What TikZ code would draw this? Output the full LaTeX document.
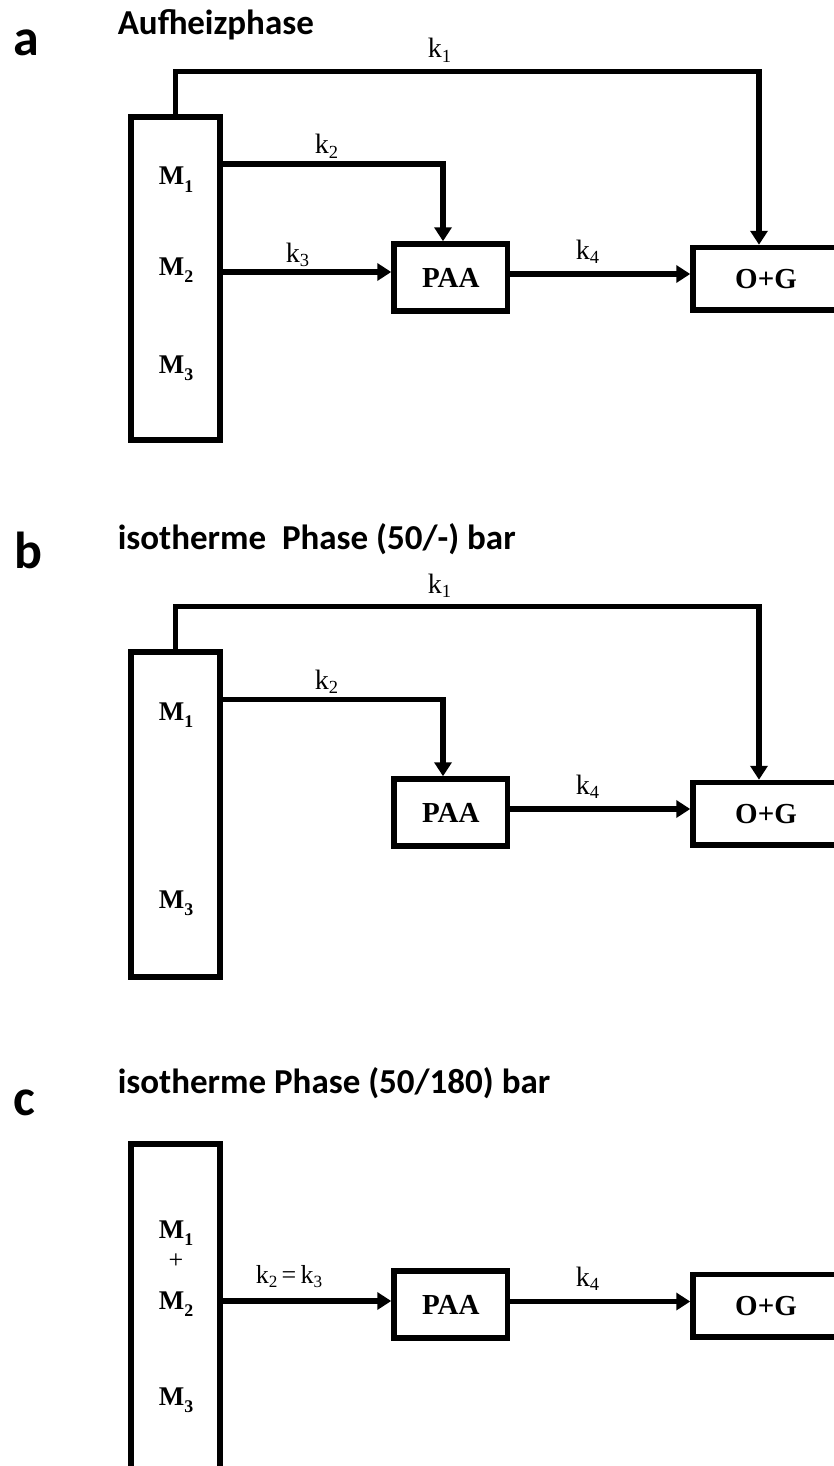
\documentclass[tikz,border=0pt]{standalone}
\usepackage{fontspec}
\setmainfont{Liberation Serif}
\newfontfamily\calfont{Carlito}
\usetikzlibrary{arrows.meta}
\newcommand\lowsub[1]{\raisebox{-0.27em}{\scalebox{0.66}{#1}}}
\newcommand\ksub[1]{\raisebox{-0.16em}{\scalebox{0.66}{#1}}}
\begin{document}
\begin{tikzpicture}[x=1pt,y=-1pt,
  line width=5.5pt,
  arr/.style={-{Triangle[width=17pt,length=14pt]}},
  boxnode/.style={draw,line width=5.5pt,inner sep=0pt,font=\fontsize{29}{32}\selectfont\bfseries},
  mbox/.style={draw,line width=5.5pt,inner sep=0pt,minimum width=89pt},
  mlab/.style={inner sep=0pt,anchor=base,font=\fontsize{27}{30}\selectfont\bfseries},
  klab/.style={inner sep=0pt,anchor=base west,font=\fontsize{28}{32}\selectfont},
  ttl/.style={inner sep=0pt,anchor=base west,font=\calfont\bfseries\fontsize{35}{40}\selectfont},
  letter/.style={inner sep=0pt,anchor=base west,font=\calfont\bfseries\fontsize{52}{60}\selectfont}]
\useasboundingbox (0,0) rectangle (833,1466);

% ---------------- panel a ----------------
\node[letter] (la) at (10.5,56) {a};
\node[ttl] (ta) at (115,35) {Aufheizphase};
\node[mbox,minimum height=323pt] (Ma) at (175.5,278.5) {};
\node[mlab] (M1a) at (176,185) {M\lowsub{1}};
\node[mlab] (M2a) at (176,275) {M\lowsub{2}};
\node[mlab] (M3a) at (176,373) {M\lowsub{3}};
\node[boxnode,minimum width=113.5pt,minimum height=67pt] (PAAa) at (450.75,277.5) {PAA};
\node[boxnode,minimum width=146pt,minimum height=62.5pt] (OGa) at (766,278.75) {O+G};
\coordinate (k1a) at (759,71.5);
\coordinate (k2a) at (443,164);
\draw[arr] (Ma.north) |- (k1a) -- (k1a |- OGa.north);
\draw[arr] (k2a -| Ma.east) -- (k2a) -- (k2a |- PAAa.north);
\draw[arr] ([yshift=5.5pt]PAAa.west -| Ma.east) -- ([yshift=5.5pt]PAAa.west);
\draw[arr] ([yshift=3.5pt]PAAa.east) -- ([yshift=3.5pt]PAAa.east -| OGa.west);
\node[klab] (k1la) at (425,58) {k\ksub{1}};
\node[klab] (k2la) at (312,154) {k\ksub{2}};
\node[klab] (k3la) at (283,262) {k\ksub{3}};
\node[klab] (k4la) at (573,259) {k\ksub{4}};

% ---------------- panel b ----------------
\node[letter] (lb) at (11.5,568) {b};
\node[ttl] (tb) at (115,549) {isotherme\ \ Phase (50/-) bar};
\node[mbox,minimum height=325pt] (Mb) at (175.5,814.5) {};
\node[mlab] (M1b) at (176,720) {M\lowsub{1}};
\node[mlab] (M3b) at (176,908) {M\lowsub{3}};
\node[boxnode,minimum width=113.5pt,minimum height=67pt] (PAAb) at (450.75,812.5) {PAA};
\node[boxnode,minimum width=146pt,minimum height=62.5pt] (OGb) at (766,813.75) {O+G};
\coordinate (k1b) at (759,606.5);
\coordinate (k2b) at (443,699.5);
\draw[arr] (Mb.north) |- (k1b) -- (k1b |- OGb.north);
\draw[arr] (k2b -| Mb.east) -- (k2b) -- (k2b |- PAAb.north);
\draw[arr] ([yshift=3.5pt]PAAb.east) -- ([yshift=3.5pt]PAAb.east -| OGb.west);
\node[klab] (k1lb) at (425,593) {k\ksub{1}};
\node[klab] (k2lb) at (312,689) {k\ksub{2}};
\node[klab] (k4lb) at (573,794) {k\ksub{4}};

% ---------------- panel c ----------------
\node[letter] (lc) at (11,1115) {c};
\node[ttl] (tc) at (115,1093) {isotherme Phase (50/180) bar};
\node[mbox,minimum height=326pt] (Mc) at (175.5,1307) {};
\node[mlab] (M1c) at (176,1238) {M\lowsub{1}};
\node[mlab,font=\fontsize{26}{28}\selectfont] (plc) at (176,1268) {+};
\node[mlab] (M2c) at (176,1309) {M\lowsub{2}};
\node[mlab] (M3c) at (176,1405) {M\lowsub{3}};
\node[boxnode,minimum width=113.5pt,minimum height=67pt] (PAAc) at (450.75,1304.5) {PAA};
\node[boxnode,minimum width=146pt,minimum height=62.5pt] (OGc) at (766,1305.75) {O+G};
\draw[arr] ([yshift=3.5pt]PAAc.west -| Mc.east) -- ([yshift=3.5pt]PAAc.west);
\draw[arr] ([yshift=3pt]PAAc.east) -- ([yshift=3pt]PAAc.east -| OGc.west);
\node[klab,font=\fontsize{26}{28}\selectfont] (k23lc) at (253,1283) {k\ksub{2}\,=\,k\ksub{3}};
\node[klab] (k4lc) at (573,1286) {k\ksub{4}};
\end{tikzpicture}
\end{document}
